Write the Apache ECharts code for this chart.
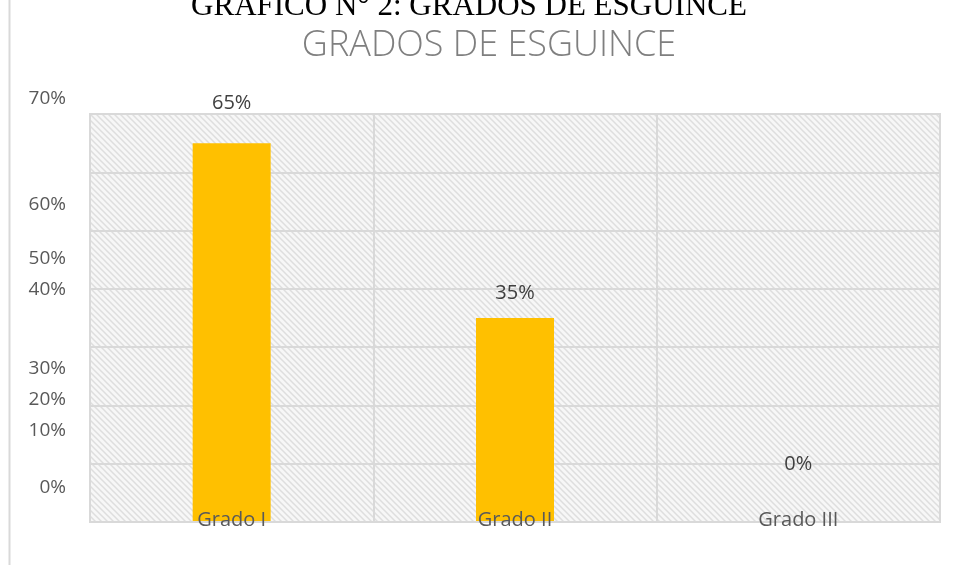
<!DOCTYPE html>
<html>
<head>
<meta charset="utf-8">
<script src="https://cdn.jsdelivr.net/npm/echarts@6/dist/echarts.min.js"></script>
<style>
  html, body { margin: 0; padding: 0; background: #fff; }
  #myChart { width: 957px; height: 578px; }
</style>
</head>
<body>
<div id="myChart"></div>
<script>
// datos del gráfico
const categories = ["Grado I", "Grado II", "Grado III"];
const values = [65, 35, 0];
const yTickLabels = ["70%", "60%", "50%", "40%", "30%", "20%", "10%", "0%"];

// posiciones (como en la imagen original, las etiquetas no están alineadas)
const yTickLabelY = [99, 205, 259, 290, 369, 400, 431, 488];
const labelGap = [30, 15, 48];

// patrón rayado del fondo
function hatch() {
  const c = document.createElement("canvas");
  c.width = 6;
  c.height = 6;
  const ctx = c.getContext("2d");
  ctx.fillStyle = "#f7f7f7";
  ctx.fillRect(0, 0, 6, 6);
  ctx.strokeStyle = "#dedede";
  ctx.lineWidth = 1.5;
  ctx.beginPath();
  ctx.moveTo(-3, -3); ctx.lineTo(9, 9);
  ctx.moveTo(-3, 3); ctx.lineTo(3, 9);
  ctx.moveTo(3, -3); ctx.lineTo(9, 3);
  ctx.stroke();
  return c;
}

let myChart = echarts.init(document.getElementById("myChart"));

let option = {
  animation: false,
  grid: {
    left: 90,
    right: 17,
    top: 114,
    bottom: 56,
    show: true,
    backgroundColor: { image: hatch(), repeat: "repeat" },
    borderColor: "#d9d9d9",
    borderWidth: 2,
  },
  graphic: [
    {
      type: "line",
      shape: { x1: 9.5, y1: 0, x2: 9.5, y2: 565 },
      style: { stroke: "#d9d9d9", lineWidth: 2 },
    },
    {
      type: "text",
      x: 469,
      y: 7,
      style: {
        text: "GRÁFICO N° 2: GRADOS DE ESGUINCE",
        align: "center",
        verticalAlign: "middle",
        fontFamily: "Liberation Serif",
        fontSize: 31,
        fill: "#000",
      },
    },
    {
      type: "text",
      x: 489,
      y: 46,
      style: {
        text: "GRADOS DE ESGUINCE",
        align: "center",
        verticalAlign: "middle",
        fontFamily: "Open Sans",
        fontSize: 36,
        fontWeight: 300,
        fill: "#7f7f7f",
      },
    },
  ].concat(
    yTickLabels.map((t, i) => ({
      type: "text",
      x: 66,
      y: yTickLabelY[i],
      style: {
        text: t,
        align: "right",
        verticalAlign: "middle",
        fontFamily: "Open Sans",
        fontSize: 19,
        fill: "#595959",
      },
    }))
  ),
  xAxis: {
    type: "category",
    data: categories,
    axisTick: { show: false },
    axisLine: { lineStyle: { color: "#d9d9d9", width: 2 } },
    splitLine: { show: true, lineStyle: { color: "#d9d9d9", width: 2 } },
    axisLabel: {
      margin: -12,
      fontFamily: "Open Sans",
      fontSize: 20,
      color: "#595959",
    },
    z: 3,
  },
  yAxis: {
    type: "value",
    min: 0,
    max: 70,
    interval: 10,
    axisLabel: { show: false },
    axisLine: { show: false },
    axisTick: { show: false },
    splitLine: { lineStyle: { color: "#d9d9d9", width: 2 } },
  },
  series: [
    {
      type: "bar",
      barWidth: 78,
      itemStyle: { color: "#ffc000" },
      data: values.map((v, i) => ({
        value: v,
        label: { distance: labelGap[i] },
      })),
      label: {
        show: true,
        position: "top",
        formatter: "{c}%",
        fontFamily: "Open Sans",
        fontSize: 20,
        color: "#404040",
      },
    },
  ],
};
myChart.setOption(option);
</script>
</body>
</html>
